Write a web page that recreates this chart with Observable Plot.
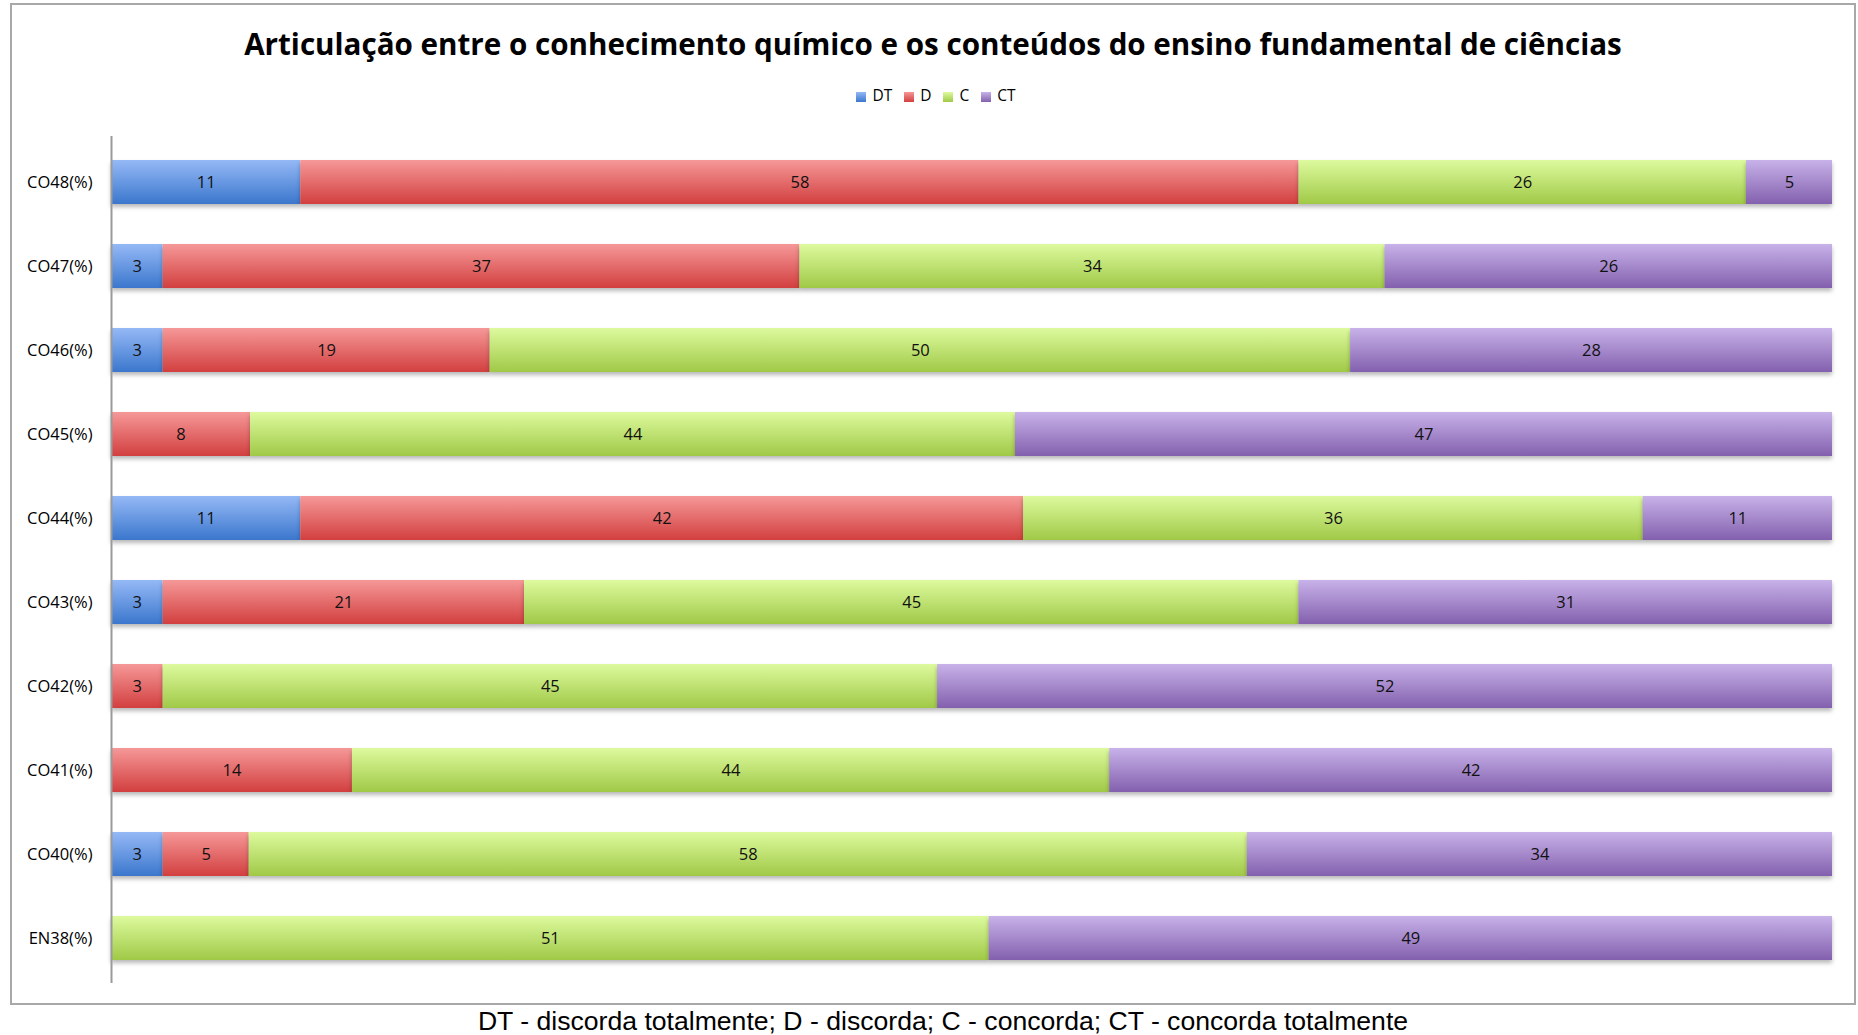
<!DOCTYPE html>
<html>
<head>
<meta charset="utf-8">
<script src="https://cdn.jsdelivr.net/npm/d3@7"></script>
<script src="https://cdn.jsdelivr.net/npm/@observablehq/plot@0.6"></script>
<style>
  html, body { margin: 0; padding: 0; background: #fff; }
  body { width: 1858px; height: 1035px; overflow: hidden; font-family: "Open Sans", sans-serif; }
  #wrap { position: absolute; left: 10px; top: 3px; width: 1842px; border: 2px solid #a8a8a8; background: #fff; }
  #title { height: 78px; line-height: 78px; text-align: center; font-weight: 700; font-size: 29.6px; color: #000; white-space: nowrap; }
  #legend { height: 24px; line-height: 24px; text-align: center; font-size: 15.5px; color: #000; padding-left: 6px; }
  #legend span.item { display: inline-block; margin: 0 6px; }
  #legend span.sw { display: inline-block; width: 10px; height: 10px; margin-right: 6px; vertical-align: -1px; }
  #caption { position: absolute; left: 14px; top: 1005px; width: 1858px; text-align: center; font-family: "Liberation Sans", Arial, sans-serif; font-size: 26.6px; line-height: 32px; color: #000; }
  svg rect.seg { filter: drop-shadow(0px 3px 2px rgba(0,0,0,0.28)); }
</style>
</head>
<body>
<div id="wrap">
  <div id="title"></div>
  <div id="legend"></div>
  <div id="chart"></div>
</div>
<div id="caption"></div>
<script>
const titleText = "Articulação entre o conhecimento químico e os conteúdos do ensino fundamental de ciências";
const captionText = "DT - discorda totalmente; D - discorda; C - concorda; CT - concorda totalmente";
const categories = ["CO48(%)", "CO47(%)", "CO46(%)", "CO45(%)", "CO44(%)", "CO43(%)", "CO42(%)", "CO41(%)", "CO40(%)", "EN38(%)"];
const seriesNames = ["DT", "D", "C", "CT"];
const DT = [11, 3, 3, 0, 11, 3, 0, 0, 3, 0];
const D  = [58, 37, 19, 8, 42, 21, 3, 14, 5, 0];
const C  = [26, 34, 50, 44, 36, 45, 45, 44, 58, 51];
const CT = [5, 26, 28, 47, 11, 31, 52, 42, 34, 49];
const gradTop = ["#95b9f6", "#f69898", "#ddfa9e", "#c8b2e9"];
const gradBottom = ["#3b77cd", "#d23f3f", "#a0c947", "#8360ae"];

const seriesValues = [DT, D, C, CT];
const data = [];
categories.forEach((cat, i) => {
  seriesNames.forEach((s, j) => {
    const v = seriesValues[j][i];
    if (v > 0) data.push({cat, series: s, value: v});
  });
});

document.getElementById("title").textContent = titleText;
document.getElementById("caption").textContent = captionText;
const legend = document.getElementById("legend");
seriesNames.forEach((s, j) => {
  const it = document.createElement("span");
  it.className = "item";
  const sw = document.createElement("span");
  sw.className = "sw";
  sw.style.background = `linear-gradient(${gradTop[j]}, ${gradBottom[j]})`;
  it.appendChild(sw);
  it.appendChild(document.createTextNode(s));
  legend.appendChild(it);
});

const stackOpts = {y: "cat", x: "value", z: "series", order: seriesNames, offset: "normalize"};

const chart = Plot.plot({
  width: 1842,
  height: 896,
  marginLeft: 99,
  marginRight: 22,
  marginTop: 29,
  marginBottom: 20,
  style: {fontFamily: "Open Sans, sans-serif", fontSize: "16.5px", color: "#000", background: "transparent"},
  x: {axis: null, domain: [0, 1]},
  y: {domain: categories, paddingInner: 0.48, paddingOuter: 0.24, label: null, tickSize: 0, tickPadding: 19},
  color: {domain: seriesNames, range: seriesNames.map(s => `url(#grad-${s})`)},
  marks: [
    Plot.barX(data, Plot.stackX({...stackOpts, fill: "series", className: "segs"})),
    Plot.text(data, Plot.stackX({...stackOpts, text: d => String(d.value), fill: "#111", fontSize: 16.5})),
    Plot.ruleX([0], {stroke: "#9a9a9a", strokeWidth: 2})
  ]
});

const svg = d3.select(chart);
const defs = svg.insert("defs", ":first-child");
seriesNames.forEach((s, j) => {
  const g = defs.append("linearGradient").attr("id", `grad-${s}`).attr("x1", 0).attr("y1", 0).attr("x2", 0).attr("y2", 1);
  g.append("stop").attr("offset", "0%").attr("stop-color", gradTop[j]);
  g.append("stop").attr("offset", "100%").attr("stop-color", gradBottom[j]);
});
svg.selectAll(".segs rect").classed("seg", true);
document.getElementById("chart").appendChild(chart);
</script>
</body>
</html>
